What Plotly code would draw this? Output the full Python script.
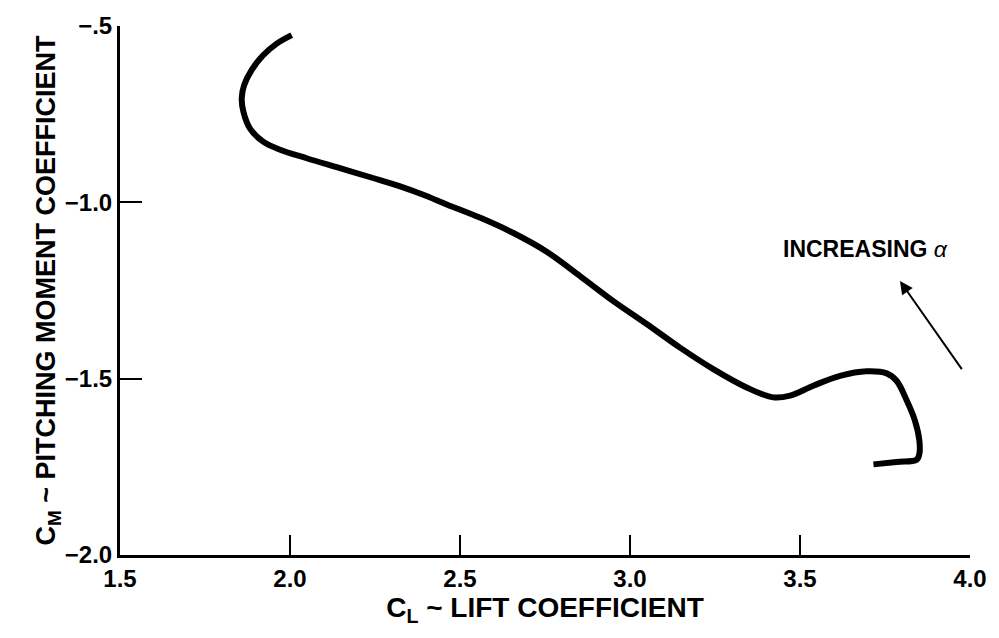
import plotly.graph_objects as go

# C_L (lift coefficient) and C_M (pitching moment coefficient)
cl = [2.005, 1.961, 1.921, 1.887, 1.865, 1.858, 1.863, 1.882, 1.921, 1.971, 2.049, 2.147,
      2.244, 2.324, 2.39, 2.461, 2.56, 2.657, 2.755, 2.853, 2.951, 3.049, 3.147, 3.245,
      3.343, 3.421, 3.471, 3.539, 3.618, 3.696, 3.755, 3.784, 3.814, 3.838, 3.851, 3.851,
      3.843, 3.784, 3.716]
cm = [-0.526, -0.550, -0.583, -0.625, -0.668, -0.705, -0.743, -0.790, -0.828, -0.851, -0.875, -0.903,
      -0.931, -0.955, -0.978, -1.006, -1.044, -1.087, -1.140, -1.209, -1.280, -1.345, -1.412, -1.473,
      -1.525, -1.553, -1.548, -1.520, -1.492, -1.479, -1.485, -1.506, -1.562, -1.619, -1.675, -1.713,
      -1.730, -1.736, -1.743]

x_ticks = [1.5, 2.0, 2.5, 3.0, 3.5, 4.0]
x_labels = ["1.5", "2.0", "2.5", "3.0", "3.5", "4.0"]
y_ticks = [-2.0, -1.5, -1.0, -0.5]
y_labels = ["\u22122.0", "\u22121.5", "\u22121.0", "\u2212.5"]

FONT = "Liberation Sans Narrow, Liberation Sans, Arial, sans-serif"

fig = go.Figure()
fig.add_trace(go.Scatter(x=cl, y=cm, mode="lines",
                         line=dict(color="black", width=6, shape="spline", smoothing=1.0),
                         hoverinfo="skip", showlegend=False))

fig.add_annotation(x=3.794, y=-1.223, ax=3.979, ay=-1.477, xref="x", yref="y",
                   axref="x", ayref="y", text="", showarrow=True,
                   arrowhead=2, arrowsize=1.3, arrowwidth=2, arrowcolor="black")
fig.add_annotation(x=3.694, y=-1.133, xref="x", yref="y", text="<b>INCREASING</b> <i>\u03b1</i>",
                   showarrow=False, font=dict(family=FONT, size=23, color="black"))

fig.update_layout(
    width=999, height=638,
    margin=dict(l=120, r=29, t=24, b=83),
    paper_bgcolor="white", plot_bgcolor="white",
    font=dict(family=FONT, color="black", size=20),
    xaxis=dict(range=[1.5, 4.0], tickvals=x_ticks, ticktext=["<b>%s</b>" % t for t in x_labels],
               showgrid=False, zeroline=False, showline=True, linecolor="black", linewidth=3,
               ticks="inside", ticklen=20, tickwidth=2, tickcolor="black",
               tickfont=dict(family=FONT, size=24),
               title=dict(text="<b>C<sub>L</sub> ~ LIFT COEFFICIENT</b>", standoff=2,
                          font=dict(family=FONT, size=28))),
    yaxis=dict(range=[-2.0, -0.5], tickvals=y_ticks, ticktext=["<b>%s</b>" % t for t in y_labels],
               showgrid=False, zeroline=False, showline=True, linecolor="black", linewidth=3,
               ticks="inside", ticklen=22, tickwidth=2, tickcolor="black",
               tickfont=dict(family=FONT, size=24),
               title=dict(text="<b>C<sub>M</sub> ~ PITCHING MOMENT COEFFICIENT</b>", standoff=0,
                          font=dict(family=FONT, size=27))),
)

fig.write_html("out.html")
